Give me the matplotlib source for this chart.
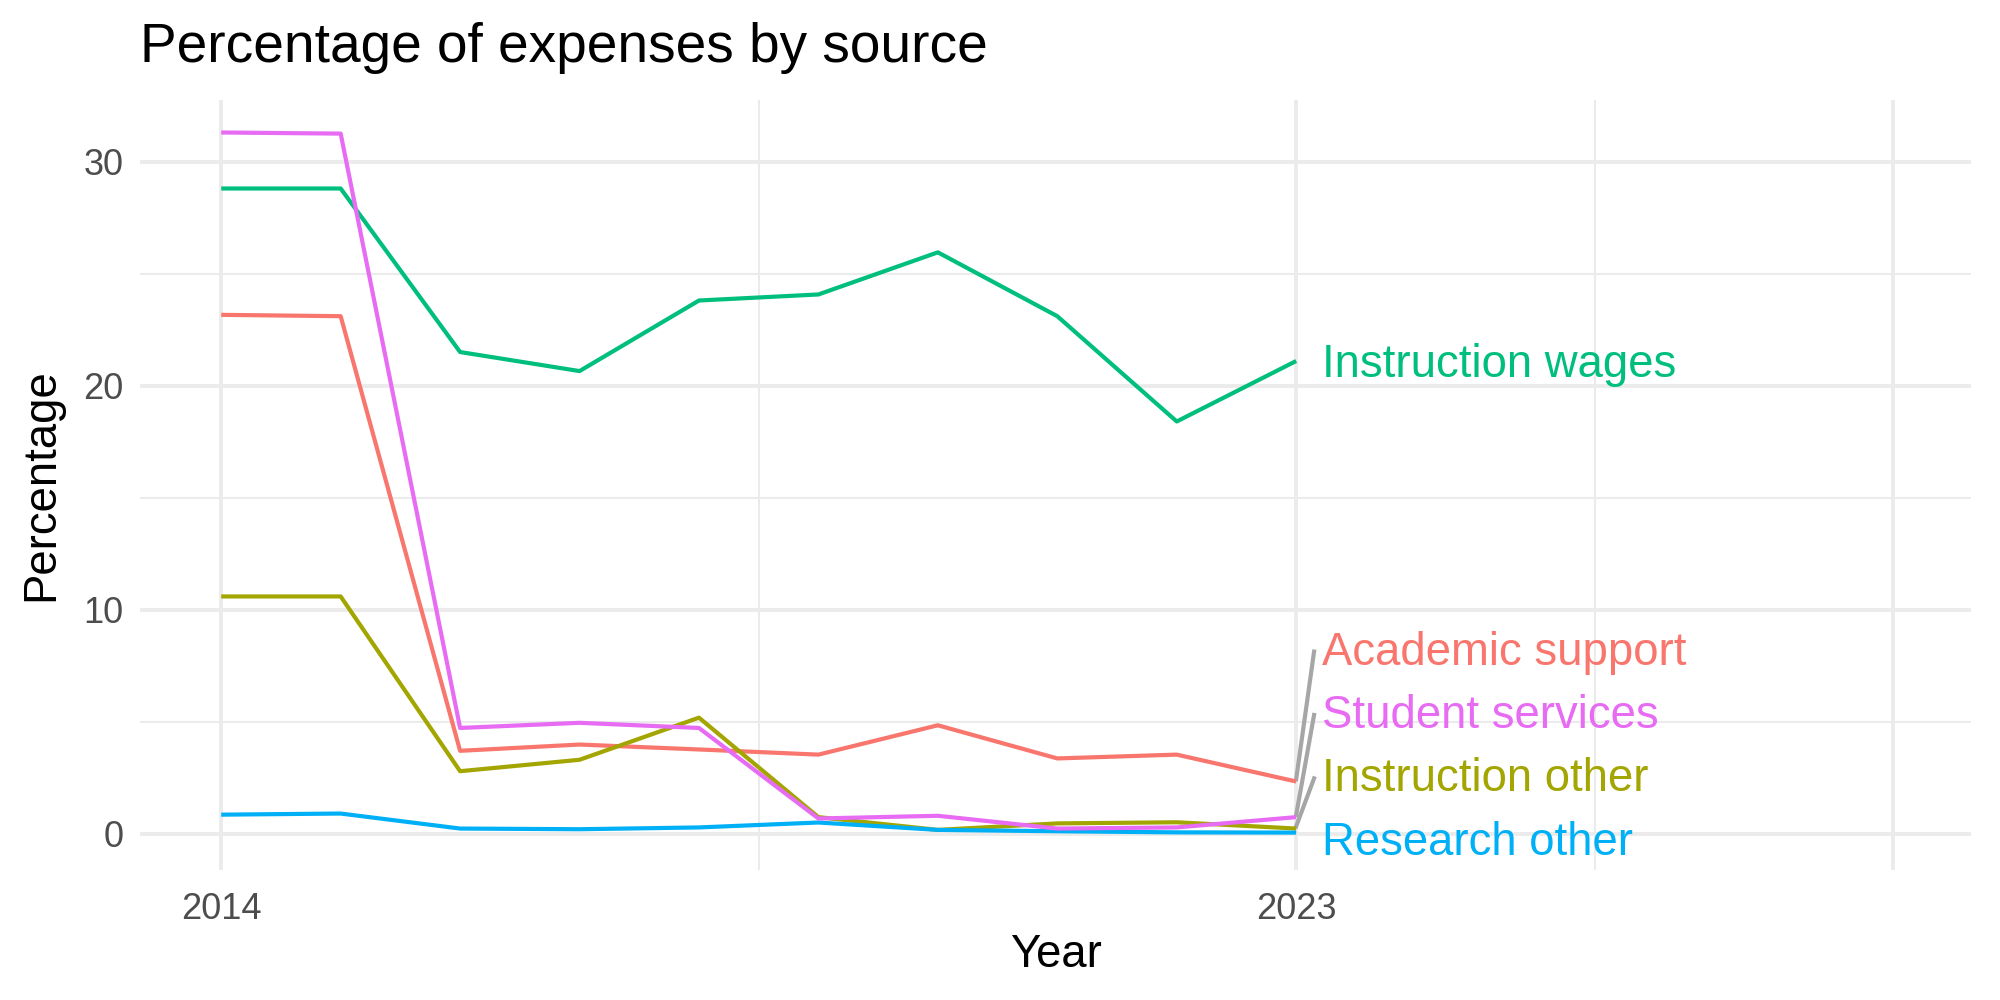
import numpy as np
import matplotlib
matplotlib.use("Agg")
import matplotlib.pyplot as plt

plt.rcParams['font.family'] = ['Liberation Sans', 'DejaVu Sans']

years = np.arange(2014, 2024)

academic_support = [23.16, 23.1, 3.7, 3.98, 3.76, 3.53, 4.84, 3.36, 3.53, 2.33]
instruction_other = [10.59, 10.59, 2.79, 3.3, 5.18, 0.74, 0.17, 0.46, 0.51, 0.23]
instruction_wages = [28.8, 28.8, 21.5, 20.65, 23.8, 24.07, 25.95, 23.1, 18.4, 21.1]
research_other = [0.85, 0.9, 0.23, 0.2, 0.28, 0.5, 0.17, 0.11, 0.06, 0.05]
student_services = [31.3, 31.25, 4.72, 4.95, 4.72, 0.68, 0.8, 0.23, 0.28, 0.74]

series = {
    "Academic support": academic_support,
    "Instruction other": instruction_other,
    "Instruction wages": instruction_wages,
    "Research other": research_other,
    "Student services": student_services,
}
colors = {
    "Academic support": "#F8766D",
    "Instruction other": "#A3A500",
    "Instruction wages": "#00BF7D",
    "Research other": "#00B0F6",
    "Student services": "#E76BF3",
}

fig = plt.figure(figsize=(10, 5), dpi=200)
ax = fig.add_axes([0.07, 0.13, 0.9155, 0.77])

for name, vals in series.items():
    ax.plot(years, vals, color=colors[name], lw=1.5, solid_capstyle='butt', zorder=3)

# end labels, pushed apart like ggrepel
ends = sorted(series.items(), key=lambda kv: kv[1][-1])
gap = 2.83
prev = None
label_x = years[-1] + 0.22
for name, vals in ends:
    v = vals[-1]
    y = v - 0.26 if prev is None else max(v, prev + gap)
    prev = y
    if y - v > 1:
        ax.plot([years[-1], years[-1] + 0.15], [v + 0.1, y - 0.15],
                color="#A6A6A6", lw=1.5, zorder=2)
    ax.annotate(name, (label_x, y), xytext=(0, -5.9), textcoords='offset points',
                ha='left', va='baseline', color=colors[name], fontsize=16.4, zorder=4)

ax.set_xlim(2013.32, 2028.65)
ax.set_ylim(-1.62, 32.75)
ax.set_xticks([2014, 2023, 2028])
ax.set_xticklabels(['2014', '2023', ''])
ax.set_xticks([2018.5, 2025.5], minor=True)
ax.set_yticks([0, 10, 20, 30])
ax.set_yticks([5, 15, 25], minor=True)

ax.grid(which='major', color='#EBEBEB', lw=1.4)
ax.grid(which='minor', color='#EBEBEB', lw=0.75)
ax.set_axisbelow(True)
for s in ax.spines.values():
    s.set_visible(False)
ax.tick_params(which='both', length=0, labelsize=13, labelcolor='#4D4D4D')
ax.tick_params(axis='x', pad=8)
ax.tick_params(axis='y', pad=6)

ax.set_xlabel("Year", fontsize=16.4, labelpad=2)
ax.set_ylabel("Percentage", fontsize=16.4, labelpad=7)
fig.text(0.07, 0.952, "Percentage of expenses by source", fontsize=19.8,
         ha='left', va='center')

fig.savefig("out.png", dpi=200)
